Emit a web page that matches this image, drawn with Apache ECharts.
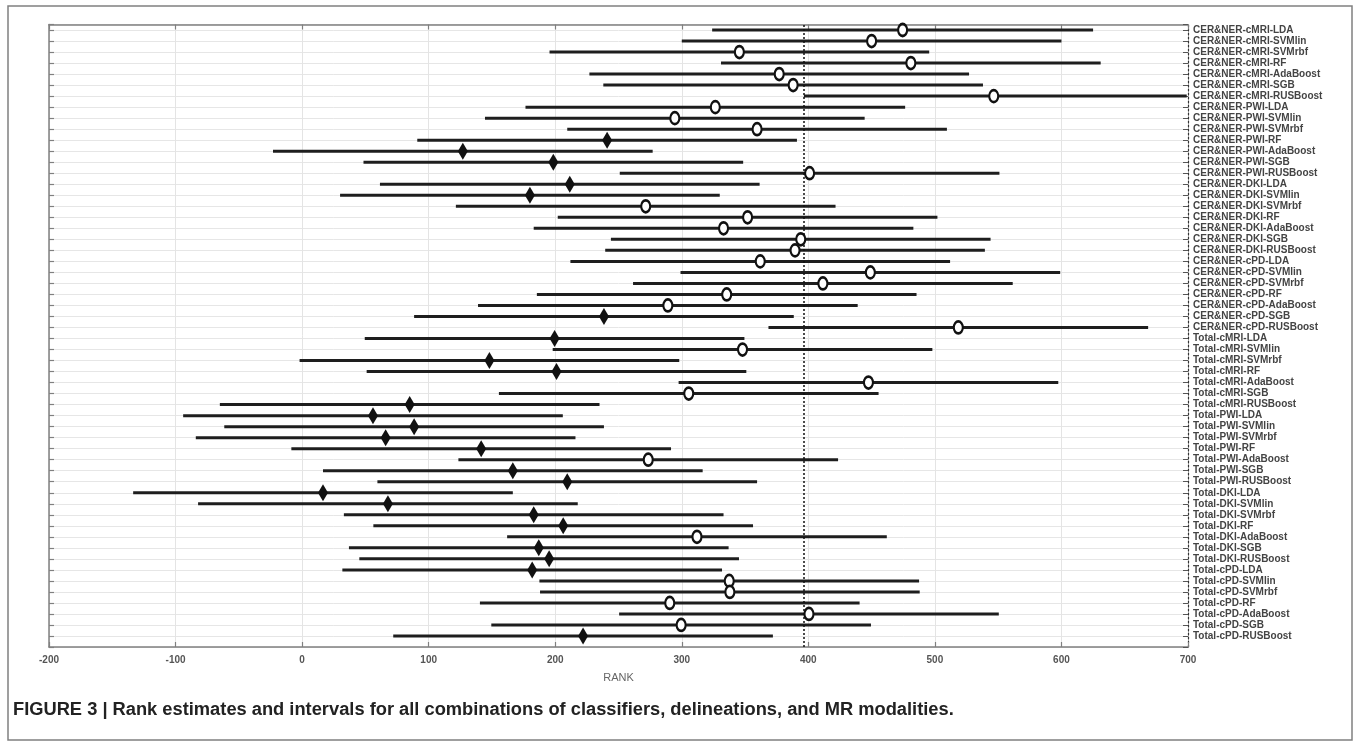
<!DOCTYPE html>
<html>
<head>
<meta charset="utf-8">
<script src="https://cdn.jsdelivr.net/npm/echarts@6/dist/echarts.min.js"></script>
<style>
html,body{margin:0;padding:0;background:#fff;}
#chart{width:1360px;height:746px;}
</style>
</head>
<body>
<div id="chart"></div>
<script>
// Row labels, top to bottom
const names = [
 "CER&NER-cMRI-LDA","CER&NER-cMRI-SVMlin","CER&NER-cMRI-SVMrbf","CER&NER-cMRI-RF","CER&NER-cMRI-AdaBoost","CER&NER-cMRI-SGB","CER&NER-cMRI-RUSBoost",
 "CER&NER-PWI-LDA","CER&NER-PWI-SVMlin","CER&NER-PWI-SVMrbf","CER&NER-PWI-RF","CER&NER-PWI-AdaBoost","CER&NER-PWI-SGB","CER&NER-PWI-RUSBoost",
 "CER&NER-DKI-LDA","CER&NER-DKI-SVMlin","CER&NER-DKI-SVMrbf","CER&NER-DKI-RF","CER&NER-DKI-AdaBoost","CER&NER-DKI-SGB","CER&NER-DKI-RUSBoost",
 "CER&NER-cPD-LDA","CER&NER-cPD-SVMlin","CER&NER-cPD-SVMrbf","CER&NER-cPD-RF","CER&NER-cPD-AdaBoost","CER&NER-cPD-SGB","CER&NER-cPD-RUSBoost",
 "Total-cMRI-LDA","Total-cMRI-SVMlin","Total-cMRI-SVMrbf","Total-cMRI-RF","Total-cMRI-AdaBoost","Total-cMRI-SGB","Total-cMRI-RUSBoost",
 "Total-PWI-LDA","Total-PWI-SVMlin","Total-PWI-SVMrbf","Total-PWI-RF","Total-PWI-AdaBoost","Total-PWI-SGB","Total-PWI-RUSBoost",
 "Total-DKI-LDA","Total-DKI-SVMlin","Total-DKI-SVMrbf","Total-DKI-RF","Total-DKI-AdaBoost","Total-DKI-SGB","Total-DKI-RUSBoost",
 "Total-cPD-LDA","Total-cPD-SVMlin","Total-cPD-SVMrbf","Total-cPD-RF","Total-cPD-AdaBoost","Total-cPD-SGB","Total-cPD-RUSBoost"
];
// Rank estimates (marker positions)
const estimate = [
 474.5,450,345.5,481,377,388,546.5,
 326.5,294.5,359.5,241,127,198.5,401,
 211.5,180,271.5,352,333,394,389.5,
 362,449,411.5,335.5,289,238.5,518.5,
 199.5,348,148,201,447.5,305.5,85,
 56,88.5,66,141.5,273.5,166.5,209.5,
 16.5,67.8,183,206.3,312,187,195.2,
 181.8,337.5,338,290.5,400.5,299.5,222
];
// Interval lower ends
const lower = [
 324,300,195.5,331,227,238,396.5,
 176.5,144.5,209.5,91,-23,48.5,251,
 61.5,30,121.5,202,183,244,239.5,
 212,299,261.5,185.5,139,88.5,368.5,
 49.5,198,-2,51,297.5,155.5,-65,
 -94,-61.5,-84,-8.5,123.5,16.5,59.5,
 -133.5,-82.2,33,56.3,162,37,45.2,
 31.8,187.5,188,140.5,250.5,149.5,72
];
// Interval upper ends
const upper = [
 625,600,495.5,631,527,538,699,
 476.5,444.5,509.5,391,277,348.5,551,
 361.5,330,421.5,502,483,544,539.5,
 512,599,561.5,485.5,439,388.5,668.5,
 349.5,498,298,351,597.5,455.5,235,
 206,238.5,216,291.5,423.5,316.5,359.5,
 166.5,217.8,333,356.3,462,337,345.2,
 331.8,487.5,488,440.5,550.5,449.5,372
];
// Reference (dotted) line value
const refLine = 396;
const xTicks = [-200,-100,0,100,200,300,400,500,600,700];

const n = names.length;
const yOf = i => n + 1 - (i + 1); // row 1 at top
const intervals = names.map((nm, i) => [lower[i], upper[i], yOf(i)]);
const circles = [], diamonds = [];
estimate.forEach((v, i) => {
  if (upper[i] < refLine) diamonds.push([v, yOf(i)]);
  else circles.push([v, yOf(i)]);
});

const labelFont = "'Liberation Sans',Arial,sans-serif";
const chart = echarts.init(document.getElementById('chart'), null, {renderer: 'canvas'});
const yCommon = {
  type: 'value', min: 0, max: n + 0.5, interval: 1
};
chart.setOption({
  animation: false,
  backgroundColor: '#fff',
  grid: {left: 49, right: 172, top: 24.5, bottom: 99, containLabel: false},
  xAxis: [{
    type: 'value', min: xTicks[0], max: xTicks[xTicks.length - 1], interval: 100,
    position: 'bottom',
    axisLine: {show: true, lineStyle: {color: '#808080', width: 1.5}},
    axisTick: {show: true, inside: true, length: 5, lineStyle: {color: '#808080', width: 1.2}},
    axisLabel: {color: '#555', fontSize: 10, fontWeight: 'bold', fontFamily: labelFont, margin: 8},
    splitLine: {show: true, lineStyle: {color: '#e4e4e4', width: 1}},
    name: 'RANK', nameLocation: 'middle', nameGap: 25,
    nameTextStyle: {color: '#666', fontSize: 11, fontFamily: labelFont}
  }, {
    type: 'value', min: xTicks[0], max: xTicks[xTicks.length - 1], interval: 100,
    position: 'top',
    axisLine: {show: true, onZero: false, lineStyle: {color: '#808080', width: 1.5}},
    axisTick: {show: true, inside: true, length: 5, lineStyle: {color: '#808080', width: 1.2}},
    axisLabel: {show: false}, splitLine: {show: false}
  }],
  yAxis: [Object.assign({}, yCommon, {
    position: 'left',
    axisLine: {show: true, onZero: false, lineStyle: {color: '#808080', width: 1.5}},
    axisTick: {show: true, inside: true, length: 5, lineStyle: {color: '#808080', width: 1.2}},
    axisLabel: {show: false},
    splitLine: {show: true, lineStyle: {color: '#e6e6e6', width: 1}}
  }), Object.assign({}, yCommon, {
    position: 'right',
    axisLine: {show: true, onZero: false, lineStyle: {color: '#333', width: 1.2, type: [2, 2]}},
    axisTick: {show: true, inside: true, length: 5, lineStyle: {color: '#555', width: 1}},
    axisLabel: {
      show: true, margin: 5, color: '#444', fontSize: 10, fontWeight: 'bold', fontFamily: labelFont,
      formatter: v => {
        if (Math.abs(v - Math.round(v)) > 1e-6) return '';
        const k = n + 1 - Math.round(v);
        return (k >= 1 && k <= n) ? names[k - 1] : '';
      }
    },
    splitLine: {show: false}
  })],
  series: [{
    type: 'custom',
    xAxisIndex: 0, yAxisIndex: 0,
    data: intervals,
    clip: true,
    renderItem: (params, api) => {
      const p1 = api.coord([api.value(0), api.value(2)]);
      const p2 = api.coord([api.value(1), api.value(2)]);
      return {type: 'line', shape: {x1: p1[0], y1: p1[1], x2: p2[0], y2: p2[1]},
              style: {stroke: '#1e1e1e', lineWidth: 3}};
    },
    z: 3
  }, {
    type: 'scatter', xAxisIndex: 0, yAxisIndex: 0,
    data: circles, symbol: 'circle', symbolSize: [9, 12],
    itemStyle: {color: '#fff', borderColor: '#111', borderWidth: 2.4, opacity: 1},
    z: 5,
    markLine: {
      silent: true, symbol: 'none', label: {show: false},
      lineStyle: {color: '#111', type: [2, 2], width: 1.5},
      data: [{xAxis: refLine}]
    }
  }, {
    type: 'scatter', xAxisIndex: 0, yAxisIndex: 0,
    data: diamonds, symbol: 'diamond', symbolSize: [10, 17],
    itemStyle: {color: '#111', opacity: 1},
    z: 5
  }],
  graphic: [{
    type: 'rect', silent: true,
    shape: {x: 8, y: 6, width: 1344, height: 734},
    style: {fill: 'none', stroke: '#808080', lineWidth: 1.5}
  }, {
    type: 'text', left: 13, top: 701, silent: true,
    style: {text: 'FIGURE 3 | Rank estimates and intervals for all combinations of classifiers, delineations, and MR modalities.',
            fill: '#222', font: "bold 18.3px 'Liberation Sans', Arial, sans-serif"}
  }]
});
</script>
</body>
</html>
